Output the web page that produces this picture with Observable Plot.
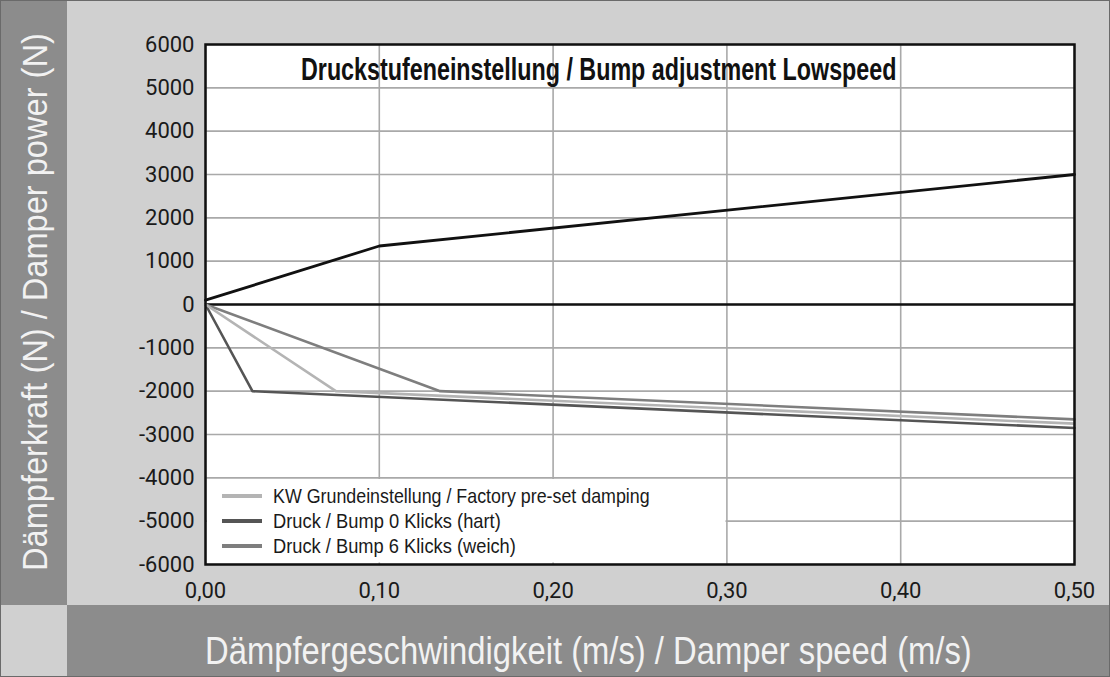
<!DOCTYPE html>
<html><head><meta charset="utf-8">
<script src="https://cdn.jsdelivr.net/npm/d3@7"></script>
<script src="https://cdn.jsdelivr.net/npm/@observablehq/plot@0.6"></script>
<style>
html,body{margin:0;padding:0;background:#d0d0d0;}
#wrap{position:relative;width:1110px;height:677px;overflow:hidden;}
#wrap > svg{position:absolute;left:0;top:0;}
</style></head><body><div id="wrap"></div>
<script>
// ---- data ----
const titleText = "Druckstufeneinstellung / Bump adjustment Lowspeed";
const yAxisTitle = "Dämpferkraft (N) / Damper power (N)";
const xAxisTitle = "Dämpfergeschwindigkeit (m/s) / Damper speed (m/s)";
const xTicks = [0, 0.1, 0.2, 0.3, 0.4, 0.5];
const yTicks = [-6000, -5000, -4000, -3000, -2000, -1000, 0, 1000, 2000, 3000, 4000, 5000, 6000];

const reboundSpeed = [0, 0.1, 0.5];
const reboundForce = [100, 1350, 3000];

const factorySpeed = [0, 0.075, 0.5];
const factoryForce = [0, -2000, -2750];
const hardSpeed = [0, 0.027, 0.5];
const hardForce = [0, -2000, -2850];
const softSpeed = [0, 0.135, 0.5];
const softForce = [0, -2000, -2650];

const seriesNames = ["KW Grundeinstellung / Factory pre-set damping", "Druck / Bump 0 Klicks (hart)", "Druck / Bump 6 Klicks (weich)"];
const seriesColors = ["#b4b4b4", "#555555", "#7e7e7e"];

// ---- build tables ----
const toRows = (xs, ys) => xs.map((x, i) => ({x, y: ys[i]}));
const rebound = toRows(reboundSpeed, reboundForce);
const factory = toRows(factorySpeed, factoryForce);
const hard = toRows(hardSpeed, hardForce);
const soft = toRows(softSpeed, softForce);

const FONT = "'Liberation Sans Narrow', 'Liberation Sans', Arial, sans-serif";
const wrap = document.getElementById("wrap");
const NS = "http://www.w3.org/2000/svg";
function el(tag, attrs, parent, text) {
  const e = document.createElementNS(NS, tag);
  for (const k in attrs) e.setAttribute(k, attrs[k]);
  if (text != null) e.textContent = text;
  parent.appendChild(e);
  return e;
}
// condensed text: natural text squeezed horizontally to a target width
function fitText(parent, str, x, y, target, attrs, rotate) {
  const t = el("text", Object.assign({x: 0, y: 0}, attrs), parent, str);
  const w = t.getComputedTextLength() || target;
  const s = target / w;
  t.setAttribute("transform", `translate(${x},${y})${rotate ? ` rotate(${rotate})` : ""} scale(${s},1)`);
  return t;
}

// background bands
const bg = el("svg", {width: 1110, height: 677}, wrap);
el("rect", {x: 0, y: 0, width: 1110, height: 677, fill: "#d0d0d0"}, bg);
el("rect", {x: 0, y: 0, width: 67, height: 605, fill: "#8c8c8c"}, bg);
el("rect", {x: 67, y: 605, width: 1043, height: 72, fill: "#8c8c8c"}, bg);
el("rect", {x: 0.5, y: 0.5, width: 1109, height: 676, fill: "none", stroke: "#6a6a6a", "stroke-width": 1}, bg);

// chart
const gridStyle = {stroke: "#a9a9a9", strokeOpacity: 1, strokeWidth: 1.6};
const chart = Plot.plot({
  width: 1110, height: 677,
  marginLeft: 205, marginRight: 36, marginTop: 44, marginBottom: 113,
  style: {background: "transparent", fontFamily: "Roboto", fontSize: "22px", color: "#1a1a1a"},
  x: {domain: [0, 0.5], ticks: xTicks, tickFormat: d => d3.format(".2f")(d).replace(".", ","), tickSize: 0, tickPadding: 18, label: null},
  y: {domain: [-6000, 6000], ticks: yTicks, tickFormat: d => String(d), tickSize: 0, tickPadding: 11, label: null},
  marks: [
    Plot.frame({fill: "white", stroke: "none"}),
    Plot.gridX(xTicks, gridStyle),
    Plot.gridY(yTicks, gridStyle),
    Plot.ruleY([0], {stroke: "#111", strokeWidth: 2.5}),
    Plot.line(rebound, {x: "x", y: "y", stroke: "#111", strokeWidth: 2.8}),
    Plot.line(hard, {x: "x", y: "y", stroke: seriesColors[1], strokeWidth: 2.6}),
    Plot.line(soft, {x: "x", y: "y", stroke: seriesColors[2], strokeWidth: 2.6}),
    Plot.line(factory, {x: "x", y: "y", stroke: seriesColors[0], strokeWidth: 2.6}),
    Plot.frame({stroke: "#111", strokeWidth: 2.5})
  ]
});
wrap.appendChild(chart);

// overlay: band titles, chart title and legend
const ov = el("svg", {width: 1110, height: 677}, wrap);
fitText(ov, yAxisTitle, 47, 571, 538, {"font-family": FONT, "font-size": 36, fill: "#f2f2f2"}, -90);
fitText(ov, xAxisTitle, 205, 664, 767, {"font-family": FONT, "font-size": 39, fill: "#f2f2f2"});
fitText(ov, titleText, 301, 80, 596, {"font-family": FONT, "font-weight": "bold", "font-size": 31, fill: "#111"});
el("rect", {x: 207, y: 479, width: 518.5, height: 83.5, fill: "white"}, ov);
const rowY = [496, 521, 546];
const textLens = [377, 228, 243];
seriesNames.forEach((name, i) => {
  el("line", {x1: 222, x2: 262, y1: rowY[i], y2: rowY[i], stroke: seriesColors[i], "stroke-width": 4}, ov);
  fitText(ov, name, 273, rowY[i] + 7, textLens[i], {"font-family": FONT, "font-size": 20, fill: "#1a1a1a"});
});
</script></body></html>
